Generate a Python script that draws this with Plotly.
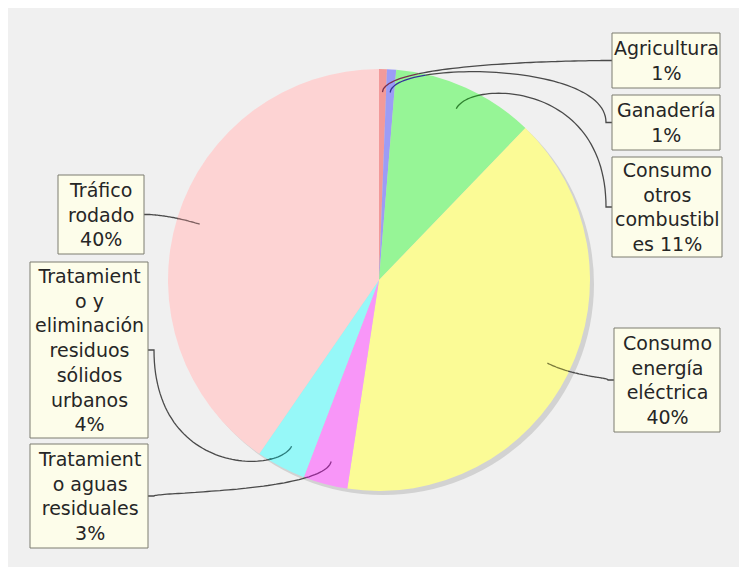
import math
import numpy as np
import plotly.graph_objects as go

# datos (porcentaje de emisiones por sector)
sectores = ["Agricultura", "Ganadería", "Consumo otros combustibles",
            "Consumo energía eléctrica", "Tratamiento aguas residuales",
            "Tratamiento y eliminación residuos sólidos urbanos", "Tráfico rodado"]
emisiones = [0.6, 0.7, 10.9, 40.2, 3.4, 3.8, 40.4]
etiquetas = ["Agricultura<br>{p}%",
             "Ganadería<br>{p}%",
             "Consumo<br>otros<br>combustibl<br>es {p}%",
             "Consumo<br>energía<br>eléctrica<br>{p}%",
             "Tratamient<br>o aguas<br>residuales<br>{p}%",
             "Tratamient<br>o y<br>eliminación<br>residuos<br>sólidos<br>urbanos<br>{p}%",
             "Tráfico<br>rodado<br>{p}%"]

colores = ["#f29a9a", "#9c9cf6", "#96f596", "#fbfb96", "#f896f8", "#96f8f8", "#fdd3d3"]
colores_link = ["#7a3050", "#34349a", "#2e802e", "#7a7a3a", "#8c2e8c", "#2a7c7c", "#806262"]

# cajas de etiqueta en pixeles de pantalla (x0, y0, x1, y1)
cajas = [(612, 33, 720, 88), (612, 95, 720, 150), (612, 157, 722, 257),
         (614, 328, 720, 432), (30, 444, 148, 548), (30, 262, 148, 438),
         (58, 175, 144, 254)]
lado = ["r", "r", "r", "r", "l", "l", "l"]

W, H = 747, 567
OFF = 8  # margen del body de la pagina
CX, CY, R = 379, 280, 211


def fx(px):
    return (px - OFF) / W


def fy(py):
    return (H + OFF - py) / H


total = sum(emisiones)
pct = [round(v / total * 100) for v in emisiones]

fig = go.Figure()
fig.add_trace(go.Scatter(x=[], y=[], showlegend=False, hoverinfo="skip"))

# sombra
fig.add_trace(go.Pie(values=[1], marker=dict(colors=["#d2d2d2"], line=dict(width=0)),
                     textinfo="none", hoverinfo="skip", showlegend=False, sort=False,
                     domain=dict(x=[fx(CX - R + 4), fx(CX + R + 4)], y=[fy(CY + R + 4), fy(CY - R + 4)])))
fig.add_trace(go.Pie(labels=sectores, values=emisiones, sort=False, direction="clockwise", rotation=0,
                     marker=dict(colors=colores, line=dict(width=0)), textinfo="none",
                     hoverinfo="label+percent", showlegend=False,
                     domain=dict(x=[fx(CX - R), fx(CX + R)], y=[fy(CY + R), fy(CY - R)])))

shapes = []
annotations = []
acum = 0
for i, v in enumerate(emisiones):
    mid = (acum + v / 2) / total * 2 * math.pi
    acum += v
    s, c = math.sin(mid), math.cos(mid)
    x0, y0 = CX + 0.89 * R * s, CY - 0.89 * R * c
    x1, y1 = CX + 1.04 * R * s, CY - 1.04 * R * c
    bx0, by0, bx1, by1 = cajas[i]
    ty = (by0 + by1) / 2
    if lado[i] == "r":
        ax, ex = bx0 - 6, bx0
    else:
        ax, ex = bx1 + 6, bx1
    t = np.linspace(0, 1, 60)[:, None]
    P = np.array([[x0, y0], [x1, y1], [ax, y1], [ax, ty]])
    pts = ((1 - t) ** 3 * P[0] + 3 * (1 - t) ** 2 * t * P[1]
           + 3 * (1 - t) * t ** 2 * P[2] + t ** 3 * P[3])
    pts = np.vstack([pts, [ex, ty]])
    r = np.hypot(pts[:, 0] - CX, pts[:, 1] - CY)
    dentro = pts[r <= R]
    fuera = pts[r >= R - 2]
    if len(fuera) > 1:
        shapes.append(dict(type="path", xref="x", yref="y", layer="above",
                           path="M" + " L".join(f"{a:.1f},{b:.1f}" for a, b in fuera),
                           line=dict(color="#4a4a4a", width=1.3)))
    if len(dentro) > 1:
        shapes.append(dict(type="path", xref="x", yref="y", layer="above",
                           path="M" + " L".join(f"{a:.1f},{b:.1f}" for a, b in dentro),
                           line=dict(color=colores_link[i], width=1.3)))
    shapes.append(dict(type="rect", xref="x", yref="y", layer="above",
                       x0=bx0, y0=by0, x1=bx1, y1=by1,
                       fillcolor="#fdfdea", line=dict(color="#7c7c70", width=1)))
    annotations.append(dict(x=(bx0 + bx1) / 2, y=ty, xref="x", yref="y",
                            text=etiquetas[i].format(p=pct[i]), showarrow=False,
                            align="center", xanchor="center", yanchor="middle",
                            font=dict(family="DejaVu Sans", size=19, color="#262626")))

fig.update_layout(
    width=W, height=H,
    margin=dict(l=0, t=0, r=0, b=0),
    paper_bgcolor="#f0f0f0", plot_bgcolor="#f0f0f0",
    xaxis=dict(range=[OFF, W + OFF], visible=False, fixedrange=True),
    yaxis=dict(range=[H + OFF, OFF], visible=False, fixedrange=True),
    shapes=shapes, annotations=annotations, showlegend=False,
)

fig.write_html("out.html")
